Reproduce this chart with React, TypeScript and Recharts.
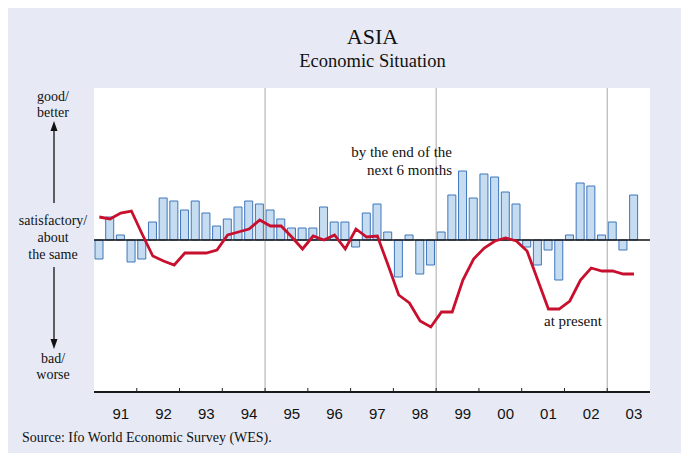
import React from "react";
import { ComposedChart, Bar, Line, XAxis, YAxis, ReferenceLine, CartesianGrid } from "recharts";

// quarterly survey results, 1991 Q1 .. 2003 Q3 (balance, arbitrary units)
const years = ["91", "92", "93", "94", "95", "96", "97", "98", "99", "00", "01", "02", "03"];
const expectations = [
  -19, 23, 5, -22, -19, 18, 42, 39, 30, 39, 27, 14, 21, 33, 39, 36,
  30, 21, 12, 12, 12, 33, 18, 18, -7, 27, 36, 8, -37, 5, -34, -25,
  8, 45, 69, 42, 66, 63, 48, 36, -7, -25, -10, -40, 5, 57, 54, 5,
  18, -10, 45,
];
const present = [
  23, 21, 27, 29, 6, -16, -21, -25, -13, -13, -13, -10, 5, 8, 11, 20,
  14, 14, 3, -9, 4, 0, 5, -9, 11, 3, 4, -25, -55, -63, -81, -87,
  -72, -72, -40, -19, -8, -1, 2, -1, -11, -40, -69, -69, -61, -40, -28, -31,
  -31, -34, -34,
];
const breaks = [16, 32, 48];

const QUARTERS = years.length * 4;
const data = Array.from({ length: QUARTERS }, (_, i) => ({
  x: i + 0.5,
  exp: i < expectations.length ? expectations[i] : null,
  now: i < present.length ? present[i] : null,
}));
const yearStarts = years.map((_, i) => i * 4);

const W = 674;
const H = 445;
const margin = { top: 80, right: 32, bottom: 31, left: 86 };
const plotW = W - margin.left - margin.right;
const serif = "'Liberation Serif', 'Times New Roman', serif";
const sans = "'Liberation Sans', Arial, sans-serif";

function YearTick(props: any) {
  const { x, y, payload } = props;
  const axisY = y - 8;
  const q = plotW / QUARTERS;
  const label = years[Math.round(payload.value / 4)];
  return (
    <g>
      {payload.value > 0 && <line x1={x} x2={x} y1={axisY} y2={axisY - 4} stroke="#222" strokeWidth={1} />}
      <text x={x + 2.5 * q} y={axisY + 26.5} textAnchor="middle" fontFamily={sans} fontSize={15} fill="#111">
        {label}
      </text>
    </g>
  );
}

export default function App() {
  return (
    <div style={{ position: "relative", width: W, height: H }}>
      <div style={{ position: "absolute", left: 0, top: -3, width: W, height: H + 3, background: "#E7EAF4" }} />
      <div style={{ position: "absolute", left: 0, top: 0 }}>
        <ComposedChart width={W} height={H} data={data} margin={margin}>
          <CartesianGrid fill="#fff" horizontal={false} vertical={false} />
          <XAxis
            dataKey="x"
            type="number"
            domain={[0, QUARTERS]}
            ticks={yearStarts}
            interval={0}
            tickLine={false}
            tickSize={6}
            tickMargin={2}
            height={30}
            axisLine={{ stroke: "#1a1a1a", strokeWidth: 2 }}
            tick={<YearTick />}
            allowDataOverflow
          />
          <XAxis xAxisId="top" orientation="top" type="number" domain={[0, QUARTERS]} height={0} tick={false} tickLine={false} axisLine={{ stroke: "#1a1a1a", strokeWidth: 1.5 }} />
          <YAxis domain={[-152, 152]} width={0} tick={false} tickLine={false} axisLine={{ stroke: "#1a1a1a", strokeWidth: 2 }} allowDataOverflow />
          <YAxis yAxisId="right" orientation="right" domain={[-152, 152]} width={0} tick={false} tickLine={false} axisLine={{ stroke: "#1a1a1a", strokeWidth: 2 }} />
          {breaks.map((b) => (
            <ReferenceLine key={b} x={b} stroke="#A9A9A9" strokeWidth={1} />
          ))}
          <Bar dataKey="exp" fill="#C6DCF0" stroke="#3F76BC" strokeWidth={1} barSize={8} isAnimationActive={false} />
          <ReferenceLine y={0} stroke="#111" strokeWidth={1.5} />
          <Line type="linear" dataKey="now" stroke="#C8102E" strokeWidth={2.8} dot={false} isAnimationActive={false} />
        </ComposedChart>
      </div>
      <svg width={W} height={H} style={{ position: "absolute", left: 0, top: 0, pointerEvents: "none" }}>
        <g transform="translate(-8,-8)" fontFamily={serif} fill="#111">
          <text x={372.5} y={44} textAnchor="middle" fontSize={22}>ASIA</text>
          <text x={372.5} y={67} textAnchor="middle" fontSize={18.5}>Economic Situation</text>

          <text x={53} y={101} textAnchor="middle" fontSize={14}>good/</text>
          <text x={53} y={116.5} textAnchor="middle" fontSize={14}>better</text>
          <text x={53} y={224.5} textAnchor="middle" fontSize={14}>satisfactory/</text>
          <text x={53} y={241.5} textAnchor="middle" fontSize={14}>about</text>
          <text x={53} y={258.5} textAnchor="middle" fontSize={14}>the same</text>
          <text x={53} y={362.5} textAnchor="middle" fontSize={14}>bad/</text>
          <text x={53} y={379} textAnchor="middle" fontSize={14}>worse</text>

          <line x1={54} x2={54} y1={130} y2={203} stroke="#111" strokeWidth={1.3} />
          <polygon points="54,121 50.5,131 57.5,131" fill="#111" />
          <line x1={54} x2={54} y1={267} y2={340} stroke="#111" strokeWidth={1.3} />
          <polygon points="54,349 50.5,339 57.5,339" fill="#111" />

          <text x={452} y={156.5} textAnchor="end" fontSize={15}>by the end of the</text>
          <text x={452} y={174.5} textAnchor="end" fontSize={15}>next 6 months</text>
          <text x={544} y={326} fontSize={15}>at present</text>

          <text x={22} y={442} fontSize={14}>Source: Ifo World Economic Survey (WES).</text>
        </g>
      </svg>
    </div>
  );
}
